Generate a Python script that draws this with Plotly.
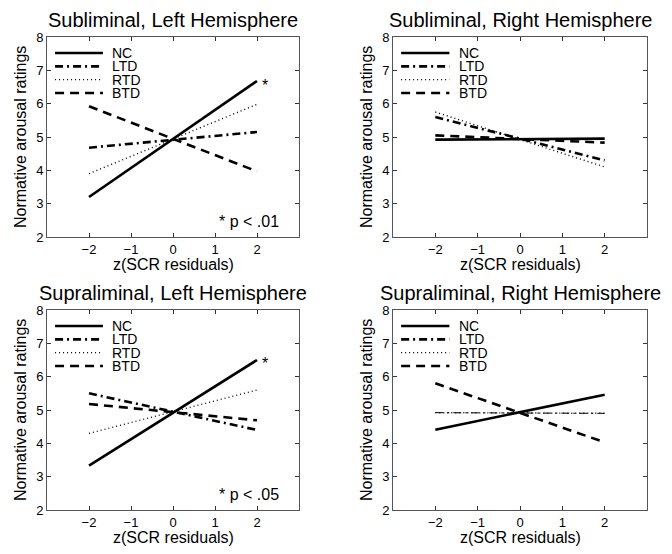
import plotly.graph_objects as go

# ---------------- data ----------------
x_z = [-2, 2]
series_names = ["NC", "LTD", "RTD", "BTD"]
panel_titles = [
    "Subliminal, Left Hemisphere",
    "Subliminal, Right Hemisphere",
    "Supraliminal, Left Hemisphere",
    "Supraliminal, Right Hemisphere",
]
x_tick_vals = [-2, -1, 0, 1, 2]
y_tick_vals = [2, 3, 4, 5, 6, 7, 8]
x_label = "z(SCR residuals)"
y_label = "Normative arousal ratings"

sub_lh_nc = [3.2, 6.68]
sub_lh_ltd = [4.68, 5.15]
sub_lh_rtd = [3.9, 5.98]
sub_lh_btd = [5.92, 3.97]

sub_rh_nc = [4.92, 4.95]
sub_rh_ltd = [5.6, 4.3]
sub_rh_rtd = [5.75, 4.1]
sub_rh_btd = [5.05, 4.83]

sup_lh_nc = [3.33, 6.5]
sup_lh_ltd = [5.5, 4.4]
sup_lh_rtd = [4.3, 5.6]
sup_lh_btd = [5.18, 4.69]

sup_rh_nc = [4.41, 5.46]
sup_rh_ltd = [4.92, 4.9]
sup_rh_rtd = [4.92, 4.9]
sup_rh_btd = [5.8, 4.03]

sig_notes = ["* p < .01", "", "* p < .05", ""]
star_x = [2.19, None, 2.19, None]
star_y = [6.71, None, 6.55, None]

panels = [
    [sub_lh_nc, sub_lh_ltd, sub_lh_rtd, sub_lh_btd],
    [sub_rh_nc, sub_rh_ltd, sub_rh_rtd, sub_rh_btd],
    [sup_lh_nc, sup_lh_ltd, sup_lh_rtd, sup_lh_btd],
    [sup_rh_nc, sup_rh_ltd, sup_rh_rtd, sup_rh_btd],
]

# ---------------- styles ----------------
FONT = "Liberation Sans, Arial, Helvetica, sans-serif"
OFF = 8                      # default page margin around the plot div
W, H = 672 - OFF, 554 - OFF  # figure size so that it fits the window
styles = [
    dict(width=2.6, dash="solid"),
    dict(width=2.6, dash="8px,4px,2px,4px"),
    dict(width=1.4, dash="1px,3px"),
    dict(width=2.6, dash="9px,6px"),
]

# page-pixel boxes of the four axes (left, right, top, bottom)
boxes = [(47, 299, 37, 237), (393, 647, 37, 237),
         (47, 299, 310, 510), (393, 647, 310, 510)]


def px(xp):
    return (xp - OFF) / W


def py(yp):
    return 1 - (yp - OFF) / H


fig = go.Figure()
annotations = []
shapes = []

for p, (vals, box) in enumerate(zip(panels, boxes)):
    n = "" if p == 0 else str(p + 1)
    xa, ya = "x" + n, "y" + n
    for s, (name, yv) in enumerate(zip(series_names, vals)):
        st = dict(styles[s])
        if p == 3 and name == "LTD":
            st["width"] = 1.0
        fig.add_trace(go.Scatter(
            x=x_z, y=yv, mode="lines", name=name, showlegend=False,
            line=dict(color="black", width=st["width"], dash=st["dash"]),
            xaxis=xa, yaxis=ya, hoverinfo="skip"))

    l, r, t, b = box
    xdom = [px(l), px(r)]
    ydom = [py(b), py(t)]
    axis_common = dict(showgrid=False, zeroline=False, ticks="inside", ticklen=4,
                       tickcolor="#333", linecolor="#555", linewidth=1,
                       mirror="ticks", showline=True, automargin=False,
                       tickfont=dict(family=FONT, size=13, color="black"))
    fig.update_layout(**{
        "xaxis" + n: dict(domain=xdom, range=[-3, 3], tickvals=x_tick_vals,
                          anchor=ya, **axis_common),
        "yaxis" + n: dict(domain=ydom, range=[2, 8], tickvals=y_tick_vals,
                          anchor=xa, **axis_common),
    })

    cx = px((l + r) / 2)
    # subplot title
    annotations.append(dict(text=panel_titles[p], x=cx, y=py(t - 17),
                            xref="paper", yref="paper", showarrow=False,
                            xanchor="center", yanchor="middle",
                            font=dict(family=FONT, size=20, color="black")))
    # x label
    annotations.append(dict(text=x_label, x=cx, y=py(b + 27),
                            xref="paper", yref="paper", showarrow=False,
                            xanchor="center", yanchor="middle",
                            font=dict(family=FONT, size=16, color="black")))
    # y label
    annotations.append(dict(text=y_label, x=px(l - 27), y=py((t + b) / 2),
                            xref="paper", yref="paper", showarrow=False,
                            textangle=-90, xanchor="center", yanchor="middle",
                            font=dict(family=FONT, size=16, color="black")))
    # legend (manual, compact like the original)
    leg_y = [0.92, 0.853, 0.787, 0.72]
    for s, name in enumerate(series_names):
        st = styles[s]
        shapes.append(dict(type="line", xref=xa + " domain", yref=ya + " domain",
                           x0=0.032, x1=0.222, y0=leg_y[s], y1=leg_y[s],
                           line=dict(color="black", width=st["width"], dash=st["dash"])))
        annotations.append(dict(text=name, xref=xa + " domain", yref=ya + " domain",
                                x=0.25, y=leg_y[s], xanchor="left", yanchor="middle",
                                showarrow=False,
                                font=dict(family=FONT, size=14, color="black")))
    # significance notes
    if sig_notes[p]:
        annotations.append(dict(text=sig_notes[p], xref=xa + " domain", yref=ya + " domain",
                                x=0.93, y=0.078, xanchor="right", yanchor="middle",
                                showarrow=False,
                                font=dict(family=FONT, size=16, color="black")))
    if star_x[p] is not None:
        annotations.append(dict(text="*", xref=xa, yref=ya, x=star_x[p], y=star_y[p] - 0.15,
                                xanchor="center", yanchor="middle", showarrow=False,
                                font=dict(family=FONT, size=16, color="black")))

fig.update_layout(width=W, height=H, margin=dict(l=0, r=0, t=0, b=0, autoexpand=False),
                  paper_bgcolor="white", plot_bgcolor="white",
                  annotations=annotations, shapes=shapes, showlegend=False)

fig.write_html("out.html")
